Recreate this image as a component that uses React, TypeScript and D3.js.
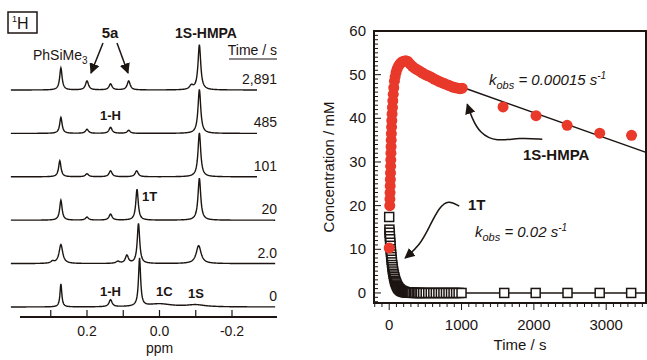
import { useEffect, useRef } from "react";
import * as d3 from "d3";

// ---- left panel: 1H NMR stack ----
const timeLabels = ["2,891", "485", "101", "20", "2.0", "0"];
// peaks per spectrum: [ppm, intensity, half width (ppm)]
const spectra: [number, number, number][][] = [
  [[0.272, 22, 0.004], [0.2, 9, 0.005], [0.135, 6, 0.005], [0.085, 9, 0.005], [-0.088, 4, 0.006], [-0.11, 45, 0.0045]],
  [[0.272, 16, 0.004], [0.2, 4, 0.005], [0.135, 6, 0.005], [0.085, 3, 0.005], [-0.11, 44, 0.0045]],
  [[0.275, 16, 0.004], [0.2, 3, 0.005], [0.135, 6, 0.005], [0.063, 6, 0.005], [-0.11, 44, 0.0045]],
  [[0.272, 20, 0.004], [0.2, 3, 0.005], [0.135, 6, 0.005], [0.062, 31, 0.004], [-0.11, 42, 0.0045]],
  [[0.295, 2, 0.005], [0.272, 19, 0.006], [0.115, 2, 0.006], [0.09, 8, 0.005], [0.058, 40, 0.004], [-0.108, 18, 0.008]],
  [[0.272, 23, 0.003], [0.135, 7, 0.005], [0.055, 48, 0.0035], [0.0, 3, 0.04], [-0.1, 2, 0.03]],
];
const spectraEnd = [-0.27, -0.27, -0.27, -0.32, -0.32, -0.32];
const ppmTicks = [0.3, 0.2, 0.1, 0, -0.1, -0.2];
const ppmLabels = [0.2, 0, -0.2];

// ---- right panel: concentration vs time ----
const hmpa: [number, number][] = [
  [0, 10.3], [8, 20], [10, 21.5], [12, 23], [14, 24.5], [16, 26], [18, 27.5], [20, 29], [22, 30.5],
  [24, 32], [26, 33.5], [28, 35], [30, 36.5], [33, 38], [36, 39.5], [40, 41], [45, 42.5], [50, 44],
  [56, 45.5], [63, 47], [72, 48.5], [82, 49.5], [95, 50.5], [110, 51.3], [130, 52], [150, 52.5],
  [175, 52.9], [200, 53.1], [230, 53.2], [260, 53], [290, 52.4], [320, 51.9], [350, 51.5], [380, 51.2],
  [410, 50.9], [440, 50.6], [470, 50.3], [500, 50], [530, 49.8], [560, 49.6], [590, 49.3], [620, 49],
  [650, 48.8], [680, 48.5], [710, 48.3], [740, 48.1], [770, 47.9], [800, 47.7], [830, 47.5], [860, 47.3],
  [890, 47.1], [920, 47], [950, 46.9], [980, 46.8], [1010, 46.9],
  [1574, 42.6], [2030, 40.6], [2460, 38.4], [2910, 36.6], [3350, 36.1],
];
const oneT: [number, number][] = [
  [0, 17.4], [3, 14.5], [6, 13.8], [9, 13], [12, 12.3], [15, 11.5], [18, 10.8], [21, 10], [24, 9.4],
  [27, 8.8], [30, 8.2], [34, 7.6], [38, 7], [42, 6.4], [46, 5.9], [50, 5.4], [55, 4.9], [60, 4.4],
  [65, 4], [70, 3.6], [76, 3.2], [82, 2.8], [88, 2.5], [95, 2.2], [102, 1.9], [110, 1.6], [118, 1.35],
  [126, 1.15], [135, 0.95], [145, 0.8], [155, 0.65], [166, 0.52], [178, 0.42], [190, 0.33], [203, 0.26],
  [216, 0.2], [230, 0.15], [245, 0.12], [260, 0.09], [275, 0.07], [290, 0.05], [305, 0.04], [320, 0.03],
  [340, 0.02], [360, 0.02], [380, 0.01], [400, 0.01], [420, 0], [440, 0], [470, 0], [505, 0], [540, 0],
  [575, 0], [610, 0], [645, 0], [680, 0], [715, 0], [750, 0], [785, 0], [820, 0], [855, 0], [890, 0],
  [925, 0], [960, 0], [1000, 0], [1590, 0], [2025, 0], [2465, 0], [2910, 0], [3345, 0],
];
const hmpaFit: [number, number][] = [[1010, 47.1], [3550, 32.2]];
const oneTFit: [number, number][] = [[1000, 0], [3550, 0]];
const hmpaArrow: [number, number][] = [[2116, 35.2], [1800, 35.6], [1480, 34.6], [1250, 36.6], [1140, 40.2], [1079, 43.2]];
const oneTArrow: [number, number][] = [[968, 19.9], [820, 21.3], [690, 19.6], [560, 15.3], [420, 10.8], [220, 8.0]];
const timeTicks = [0, 1000, 2000, 3000];
const concTicks = [0, 10, 20, 30, 40, 50, 60];

const FONT = "'Liberation Sans', Arial, sans-serif";
const INK = "#1c1512";
const RED = "#e8392b";

export default function App() {
  const ref = useRef<SVGSVGElement>(null);

  useEffect(() => {
    if (!ref.current) return;
    const svg = d3.select(ref.current);
    svg.selectAll("*").remove();

    const defs = svg.append("defs");
    defs.append("marker").attr("id", "ah").attr("viewBox", "0 0 10 10")
      .attr("refX", 9).attr("refY", 5).attr("markerWidth", 7).attr("markerHeight", 7)
      .attr("orient", "auto").append("path").attr("d", "M0,0 L10,5 L0,10 z").attr("fill", INK);

    // ================= left panel =================
    const L = svg.append("g").attr("font-family", FONT).attr("fill", INK);
    const xP = d3.scaleLinear().domain([0.2, -0.2]).range([87, 232]);
    const yBase = d3.scalePoint<string>().domain(timeLabels).range([90, 307]);
    const hI = d3.scaleLinear().domain([0, 50]).range([0, 50]);

    spectra.forEach((peaks, i) => {
      const grid = d3.range(0.41, spectraEnd[i], -0.001);
      const intensity = (p: number) => d3.sum(peaks, ([c, h, w]) => h / (1 + ((p - c) / w) ** 2));
      const b = yBase(timeLabels[i])!;
      L.append("path")
        .attr("d", d3.line<number>().x(p => xP(p)).y(p => b - hI(intensity(p)))(grid))
        .attr("fill", "none").attr("stroke", INK).attr("stroke-width", 1.4);
      L.append("text").attr("x", 277).attr("y", b - 6).attr("text-anchor", "end")
        .attr("font-size", 14).text(timeLabels[i]);
    });

    // ppm axis
    const axY = 317;
    L.append("line").attr("x1", 20).attr("x2", 277).attr("y1", axY).attr("y2", axY)
      .attr("stroke", INK).attr("stroke-width", 2);
    ppmTicks.forEach(t => {
      L.append("line").attr("x1", xP(t)).attr("x2", xP(t)).attr("y1", axY).attr("y2", axY - 7)
        .attr("stroke", INK).attr("stroke-width", 1.2);
    });
    ppmLabels.forEach(t => {
      L.append("text").attr("x", xP(t)).attr("y", axY + 19).attr("text-anchor", "middle")
        .attr("font-size", 14).text(t.toFixed(1));
    });
    L.append("text").attr("x", xP(0)).attr("y", 353).attr("text-anchor", "middle")
      .attr("font-size", 14).text("ppm");

    // 1H box
    L.append("rect").attr("x", 8).attr("y", 12).attr("width", 29).attr("height", 21)
      .attr("fill", "none").attr("stroke", INK).attr("stroke-width", 1.5);
    const h1 = L.append("text").attr("x", 12).attr("y", 29).attr("font-size", 16);
    h1.append("tspan").attr("font-size", 9).attr("dy", -7).text("1");
    h1.append("tspan").attr("dy", 7).text("H");

    // labels
    const ph = L.append("text").attr("x", 33).attr("y", 60).attr("font-size", 14);
    ph.append("tspan").text("PhSiMe");
    ph.append("tspan").attr("font-size", 10).attr("dy", 4).text("3");
    L.append("text").attr("x", 110).attr("y", 38).attr("text-anchor", "middle")
      .attr("font-size", 15).attr("font-weight", "bold").text("5a");
    L.append("text").attr("x", 206).attr("y", 38).attr("text-anchor", "middle")
      .attr("font-size", 14).attr("font-weight", "bold").text("1S-HMPA");
    L.append("text").attr("x", 277).attr("y", 55).attr("text-anchor", "end")
      .attr("font-size", 14).text("Time / s");
    L.append("line").attr("x1", 229).attr("x2", 277).attr("y1", 59).attr("y2", 59)
      .attr("stroke", INK).attr("stroke-width", 1.2);
    [[103, 91], [117, 128]].forEach(([xa, xb]) => {
      L.append("line").attr("x1", xa).attr("y1", 43).attr("x2", xb).attr("y2", 73)
        .attr("stroke", INK).attr("stroke-width", 1.5).attr("marker-end", "url(#ah)");
    });
    const bold = (x: number, y: number, s: string) =>
      L.append("text").attr("x", x).attr("y", y).attr("font-size", 13).attr("font-weight", "bold").text(s);
    bold(100, 120, "1-H");
    bold(142, 201, "1T");
    bold(100, 296, "1-H");
    bold(156, 296, "1C");
    bold(188, 298, "1S");

    // ================= right panel =================
    const R = svg.append("g").attr("font-family", FONT).attr("fill", INK);
    const xT = d3.scaleLinear().domain([-210, 3550]).range([374, 646]);
    const yC = d3.scaleLinear().domain([-2.3, 60]).range([303, 31]);
    const [x0, x1] = xT.range();
    const [y0, y1] = yC.range();

    // minor / major ticks
    d3.range(-200, 3501, 100).forEach(t => {
      const major = t % 1000 === 0;
      R.append("line").attr("x1", xT(t)).attr("x2", xT(t)).attr("y1", y0).attr("y2", y0 + (major ? 7 : 4))
        .attr("stroke", INK).attr("stroke-width", 1);
    });
    d3.range(-2, 61, 1).forEach(c => {
      const major = c % 10 === 0;
      R.append("line").attr("x1", x0).attr("x2", x0 + (major ? 7 : 4)).attr("y1", yC(c)).attr("y2", yC(c))
        .attr("stroke", INK).attr("stroke-width", 1);
    });
    R.append("rect").attr("x", x0).attr("y", y1).attr("width", x1 - x0).attr("height", y0 - y1)
      .attr("fill", "none").attr("stroke", INK).attr("stroke-width", 2);

    timeTicks.forEach(t => {
      R.append("text").attr("x", xT(t)).attr("y", 330).attr("text-anchor", "middle")
        .attr("font-size", 15).text(t);
    });
    concTicks.forEach(c => {
      R.append("text").attr("x", 366).attr("y", yC(c) + 5).attr("text-anchor", "end")
        .attr("font-size", 15).text(c);
    });
    R.append("text").attr("x", 520).attr("y", 350).attr("text-anchor", "middle")
      .attr("font-size", 15).text("Time / s");
    R.append("text").attr("transform", `translate(334,${(y0 + y1) / 2}) rotate(-90)`)
      .attr("text-anchor", "middle").attr("font-size", 15).text("Concentration / mM");

    const line = d3.line<[number, number]>().x(d => xT(d[0])).y(d => yC(d[1]));
    R.append("path").attr("d", line(hmpaFit)).attr("fill", "none").attr("stroke", INK).attr("stroke-width", 1.5);
    R.append("path").attr("d", line(oneTFit)).attr("fill", "none").attr("stroke", INK).attr("stroke-width", 1.5);

    // 1T squares
    R.selectAll(".sq").data(oneT).enter().append("rect")
      .attr("x", d => xT(d[0]) - 4.5).attr("y", d => yC(d[1]) - 4.5)
      .attr("width", 9).attr("height", 9)
      .attr("fill", "white").attr("stroke", INK).attr("stroke-width", 1.5);

    // 1S-HMPA circles
    R.selectAll(".ci").data(hmpa).enter().append("circle")
      .attr("cx", d => xT(d[0])).attr("cy", d => yC(d[1])).attr("r", 5.5)
      .attr("fill", RED);

    // arrows
    const curve = d3.line<[number, number]>().x(d => xT(d[0])).y(d => yC(d[1])).curve(d3.curveBasis);
    [hmpaArrow, oneTArrow].forEach(a => {
      R.append("path").attr("d", curve(a)).attr("fill", "none").attr("stroke", INK)
        .attr("stroke-width", 1.5).attr("marker-end", "url(#ah)");
    });

    const kobs = (x: number, y: number, val: string) => {
      const t = R.append("text").attr("x", x).attr("y", y).attr("font-size", 15).attr("font-style", "italic");
      t.append("tspan").text("k");
      t.append("tspan").attr("font-size", 11).attr("dy", 4).text("obs");
      t.append("tspan").attr("dy", -4).text(` = ${val} s`);
      t.append("tspan").attr("font-size", 10).attr("dy", -6).text("-1");
    };
    kobs(489, 85, "0.00015");
    R.append("text").attr("x", 523).attr("y", 160).attr("font-size", 15).attr("font-weight", "bold").text("1S-HMPA");
    R.append("text").attr("x", 468).attr("y", 210).attr("font-size", 15).attr("font-weight", "bold").text("1T");
    kobs(475, 237, "0.02");
  }, []);

  return (
    <svg ref={ref} width={647} height={360}
      style={{ position: "absolute", left: 0, top: 0, background: "white" }} />
  );
}
